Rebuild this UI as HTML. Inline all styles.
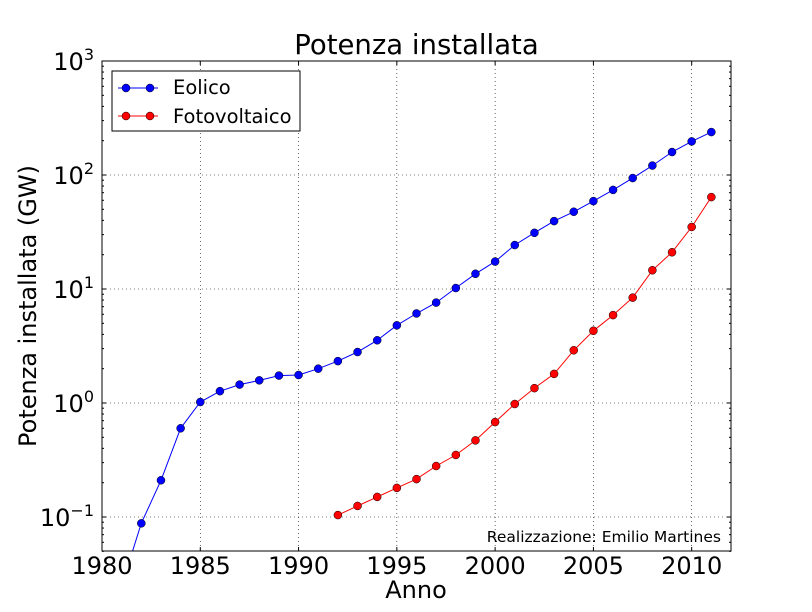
<!DOCTYPE html>
<html><head><meta charset="utf-8"><style>
body{margin:0;background:#fff;}
svg{display:block;font-family:"DejaVu Sans","Liberation Sans",sans-serif;}
</style></head><body>
<svg id="s" width="812" height="612" xmlns="http://www.w3.org/2000/svg">
<rect width="812" height="612" fill="#fff"/>
</svg>
<script>
const s=document.getElementById('s');
const L=102,R=731,T=61,B=551;
const X=y=>L+(y-1980)*(R-L)/32;
const Y=v=>403-114*Math.log10(v);
let h='';
for(let yr=1985;yr<=2010;yr+=5)h+=`<line x1="${X(yr)}" y1="${T}" x2="${X(yr)}" y2="${B}" stroke="#000" stroke-width="0.6" stroke-dasharray="1,3"/>`;
for(let e=-1;e<=2;e++)h+=`<line x1="${L}" y1="${Y(10**e)}" x2="${R}" y2="${Y(10**e)}" stroke="#000" stroke-width="0.6" stroke-dasharray="1,3"/>`;
h+=`<defs><clipPath id="c"><rect x="${L}" y="${T}" width="${R-L}" height="${B-T}"/></clipPath></defs>`;
const eo=[[1981,0.025],[1982,0.088],[1983,0.21],[1984,0.6],[1985,1.02],[1986,1.27],[1987,1.45],[1988,1.58],[1989,1.74],[1990,1.76],[1991,2.0],[1992,2.33],[1993,2.8],[1994,3.55],[1995,4.8],[1996,6.1],[1997,7.6],[1998,10.2],[1999,13.6],[2000,17.4],[2001,24.3],[2002,31.1],[2003,39.4],[2004,47.6],[2005,59],[2006,74],[2007,94],[2008,121],[2009,159],[2010,197],[2011,238]];
const fv=[[1992,0.104],[1993,0.125],[1994,0.15],[1995,0.18],[1996,0.215],[1997,0.28],[1998,0.35],[1999,0.47],[2000,0.68],[2001,0.98],[2002,1.35],[2003,1.8],[2004,2.9],[2005,4.3],[2006,5.9],[2007,8.4],[2008,14.6],[2009,21],[2010,35],[2011,64]];
function ser(d,c){let p=d.map(q=>X(q[0]).toFixed(1)+','+Y(q[1]).toFixed(1)).join(' ');
let o=`<g clip-path="url(#c)"><polyline points="${p}" fill="none" stroke="${c}" stroke-width="1"/>`;
d.forEach(q=>o+=`<circle cx="${X(q[0])}" cy="${Y(q[1])}" r="4" fill="${c}" stroke="#000" stroke-width="0.5"/>`);return o+'</g>';}
h+=ser(eo,'#0000ff')+ser(fv,'#ff0000');
h+=`<rect x="${L}" y="${T}" width="${R-L}" height="${B-T}" fill="none" stroke="#000" stroke-width="1"/>`;
for(let yr=1980;yr<=2010;yr+=5){const x=X(yr);h+=`<line x1="${x}" y1="${B}" x2="${x}" y2="${B-4}" stroke="#000"/><line x1="${x}" y1="${T}" x2="${x}" y2="${T+4}" stroke="#000"/><text x="${x}" y="574" font-size="24" text-anchor="middle">${yr}</text>`;}
for(let e=-2;e<=3;e++){for(let m=1;m<10;m++){const v=m*10**e,y=Y(v);if(y<T-0.5||y>B+0.5)continue;const len=m==1?4:2;
h+=`<line x1="${L}" y1="${y}" x2="${L+len}" y2="${y}" stroke="#000"/><line x1="${R}" y1="${y}" x2="${R-len}" y2="${y}" stroke="#000"/>`;
if(m==1)h+=`<text x="${L-8}" y="${y+9}" font-size="24" text-anchor="end">10<tspan dy="-10" font-size="16">${e<0?'−'+(-e):e}</tspan></text>`;}}
h+=`<text x="${(L+R)/2}" y="54" font-size="27.5" text-anchor="middle">Potenza installata</text>`;
h+=`<text x="416" y="598" font-size="24" text-anchor="middle">Anno</text>`;
h+=`<text transform="translate(36,306) rotate(-90)" font-size="24" text-anchor="middle">Potenza installata (GW)</text>`;
h+=`<text x="721" y="542" font-size="15.5" text-anchor="end">Realizzazione: Emilio Martines</text>`;
h+=`<rect x="112" y="71" width="188" height="60" fill="#fff" stroke="#000"/>`;
h+=`<line x1="118" y1="88" x2="158" y2="88" stroke="#0000ff"/><circle cx="126" cy="88" r="4" fill="#0000ff" stroke="#000" stroke-width="0.5"/><circle cx="150" cy="88" r="4" fill="#0000ff" stroke="#000" stroke-width="0.5"/><text x="173" y="94" font-size="19.5">Eolico</text>`;
h+=`<line x1="118" y1="116" x2="158" y2="116" stroke="#ff0000"/><circle cx="126" cy="116" r="4" fill="#ff0000" stroke="#000" stroke-width="0.5"/><circle cx="150" cy="116" r="4" fill="#ff0000" stroke="#000" stroke-width="0.5"/><text x="173" y="123" font-size="19.5">Fotovoltaico</text>`;
s.innerHTML+=h;
</script>
</body></html>
